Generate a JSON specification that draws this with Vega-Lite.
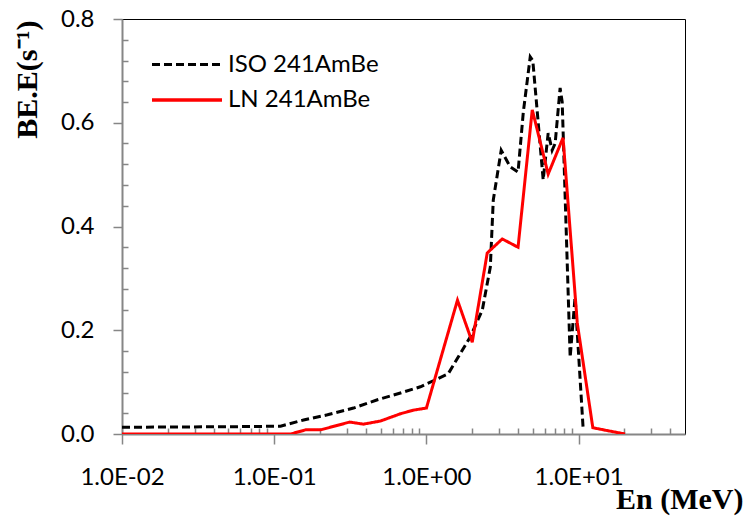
{
  "$schema": "https://vega.github.io/schema/vega-lite/v6.json",
  "width": 563,
  "height": 415,
  "autosize": "none",
  "padding": {"left": 122, "top": 19, "right": 64, "bottom": 84},
  "background": "white",
  "config": {
    "view": {"stroke": "#000", "strokeWidth": 1},
    "font": "Lato"
  },
  "data": {
    "values": [
      {"series": "ISO 241AmBe", "E": 0.01, "v": 0.013},
      {"series": "ISO 241AmBe", "E": 0.05, "v": 0.014},
      {"series": "ISO 241AmBe", "E": 0.11, "v": 0.015},
      {"series": "ISO 241AmBe", "E": 0.156, "v": 0.027},
      {"series": "ISO 241AmBe", "E": 0.224, "v": 0.037},
      {"series": "ISO 241AmBe", "E": 0.332, "v": 0.05},
      {"series": "ISO 241AmBe", "E": 0.477, "v": 0.066},
      {"series": "ISO 241AmBe", "E": 0.675, "v": 0.079},
      {"series": "ISO 241AmBe", "E": 0.913, "v": 0.091},
      {"series": "ISO 241AmBe", "E": 1.39, "v": 0.116},
      {"series": "ISO 241AmBe", "E": 1.94, "v": 0.187},
      {"series": "ISO 241AmBe", "E": 2.33, "v": 0.239},
      {"series": "ISO 241AmBe", "E": 2.63, "v": 0.322},
      {"series": "ISO 241AmBe", "E": 2.75, "v": 0.451},
      {"series": "ISO 241AmBe", "E": 3.1, "v": 0.547},
      {"series": "ISO 241AmBe", "E": 3.55, "v": 0.515},
      {"series": "ISO 241AmBe", "E": 4.0, "v": 0.505},
      {"series": "ISO 241AmBe", "E": 4.33, "v": 0.62},
      {"series": "ISO 241AmBe", "E": 4.81, "v": 0.727},
      {"series": "ISO 241AmBe", "E": 5.0, "v": 0.72},
      {"series": "ISO 241AmBe", "E": 5.85, "v": 0.49},
      {"series": "ISO 241AmBe", "E": 6.31, "v": 0.58},
      {"series": "ISO 241AmBe", "E": 6.7, "v": 0.547},
      {"series": "ISO 241AmBe", "E": 7.01, "v": 0.56},
      {"series": "ISO 241AmBe", "E": 7.56, "v": 0.667},
      {"series": "ISO 241AmBe", "E": 7.8, "v": 0.64},
      {"series": "ISO 241AmBe", "E": 8.8, "v": 0.148},
      {"series": "ISO 241AmBe", "E": 9.48, "v": 0.264},
      {"series": "ISO 241AmBe", "E": 10.7, "v": 0.012},
      {"series": "LN 241AmBe", "E": 0.01, "v": 0.0},
      {"series": "LN 241AmBe", "E": 0.128, "v": 0.0},
      {"series": "LN 241AmBe", "E": 0.161, "v": 0.008},
      {"series": "LN 241AmBe", "E": 0.202, "v": 0.008},
      {"series": "LN 241AmBe", "E": 0.313, "v": 0.023},
      {"series": "LN 241AmBe", "E": 0.386, "v": 0.019},
      {"series": "LN 241AmBe", "E": 0.499, "v": 0.025},
      {"series": "LN 241AmBe", "E": 0.675, "v": 0.039},
      {"series": "LN 241AmBe", "E": 0.822, "v": 0.046},
      {"series": "LN 241AmBe", "E": 1.0, "v": 0.05},
      {"series": "LN 241AmBe", "E": 1.6, "v": 0.258},
      {"series": "LN 241AmBe", "E": 2.0, "v": 0.177},
      {"series": "LN 241AmBe", "E": 2.51, "v": 0.349},
      {"series": "LN 241AmBe", "E": 3.15, "v": 0.376},
      {"series": "LN 241AmBe", "E": 4.0, "v": 0.36},
      {"series": "LN 241AmBe", "E": 4.96, "v": 0.625},
      {"series": "LN 241AmBe", "E": 6.31, "v": 0.501},
      {"series": "LN 241AmBe", "E": 7.9, "v": 0.571},
      {"series": "LN 241AmBe", "E": 9.8, "v": 0.214},
      {"series": "LN 241AmBe", "E": 12.4, "v": 0.012},
      {"series": "LN 241AmBe", "E": 20.2, "v": 0.0}
    ]
  },
  "mark": {"type": "line", "clip": true, "strokeWidth": 3},
  "encoding": {
    "x": {
      "field": "E",
      "type": "quantitative",
      "scale": {"type": "log", "domain": [0.01, 50], "nice": false},
      "axis": {
        "title": "En (MeV)",
        "titleFont": "Liberation Serif",
        "titleFontWeight": "bold",
        "titleFontSize": 30,
        "titleColor": "#000",
        "titleAlign": "right",
        "titleBaseline": "alphabetic",
        "titleX": 621,
        "titleY": 74,
        "values": [0.01, 0.02, 0.03, 0.04, 0.05, 0.06, 0.07, 0.08, 0.09, 0.1, 0.2, 0.3, 0.4, 0.5, 0.6, 0.7, 0.8, 0.9, 1, 2, 3, 4, 5, 6, 7, 8, 9, 10, 20, 30, 40],
        "labelExpr": "abs(log(datum.value)/LN10 - round(log(datum.value)/LN10)) < 0.001 ? '1.0E' + (round(log(datum.value)/LN10) < 0 ? '-' : '+') + '0' + abs(round(log(datum.value)/LN10)) : ''",
        "labelFont": "Lato",
        "labelFontSize": 24,
        "labelColor": "#000",
        "labelPadding": 21,
        "labelOverlap": false,
        "labelFlush": false,
        "labelBound": false,
        "grid": false,
        "domainColor": "#868686",
        "domainWidth": 2,
        "tickColor": "#868686",
        "tickWidth": 1.5,
        "tickSize": {"condition": {"test": "abs(log(datum.value)/LN10 - round(log(datum.value)/LN10)) < 0.001", "value": 10}, "value": -6}
      }
    },
    "y": {
      "field": "v",
      "type": "quantitative",
      "scale": {"domain": [0, 0.8], "nice": false},
      "axis": {
        "title": "BE.E(s⁻¹)",
        "titleFont": "Liberation Serif",
        "titleFontWeight": "bold",
        "titleFontSize": 30,
        "titleColor": "#000",
        "titleAngle": -90,
        "titleAlign": "right",
        "titleBaseline": "middle",
        "titleX": -95,
        "titleY": 1,
        "values": [0, 0.04, 0.08, 0.12, 0.16, 0.2, 0.24, 0.28, 0.32, 0.36, 0.4, 0.44, 0.48, 0.52, 0.56, 0.6, 0.64, 0.68, 0.72, 0.76, 0.8],
        "labelExpr": "abs(datum.value*5 - round(datum.value*5)) < 0.001 ? format(datum.value, '.1f') : ''",
        "labelFont": "Lato",
        "labelFontSize": 24,
        "labelColor": "#000",
        "labelPadding": 19,
        "labelOverlap": false,
        "labelFlush": false,
        "labelBound": false,
        "grid": false,
        "domainColor": "#868686",
        "domainWidth": 2,
        "tickColor": "#868686",
        "tickWidth": 1.5,
        "tickSize": {"condition": {"test": "abs(datum.value*5 - round(datum.value*5)) < 0.001", "value": 9}, "value": -6}
      }
    },
    "color": {
      "field": "series",
      "type": "nominal",
      "scale": {"domain": ["ISO 241AmBe", "LN 241AmBe"], "range": ["#000000", "#ff0000"]},
      "legend": {
        "title": null,
        "orient": "none",
        "legendX": 28,
        "legendY": 30,
        "symbolType": "M-1,0H4",
        "symbolSize": 784,
        "symbolStrokeWidth": 3,
        "labelFont": "Lato",
        "labelFontSize": 24,
        "labelColor": "#000",
        "labelOffset": 46,
        "rowPadding": 7
      }
    },
    "strokeDash": {
      "field": "series",
      "type": "nominal",
      "scale": {"domain": ["ISO 241AmBe", "LN 241AmBe"], "range": [[8, 4], [1, 0]]},
      "legend": null
    },
    "strokeWidth": {
      "field": "series",
      "type": "nominal",
      "scale": {"domain": ["ISO 241AmBe", "LN 241AmBe"], "range": [3, 3.5]},
      "legend": null
    }
  }
}
